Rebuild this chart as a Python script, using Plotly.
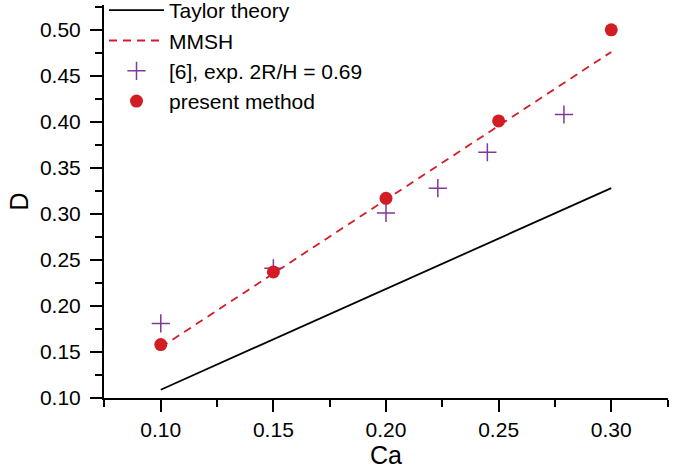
import plotly.graph_objects as go

# Data
taylor_ca = [0.10, 0.30]
taylor_d = [0.109, 0.328]

mmsh_ca = [0.10, 0.30]
mmsh_d = [0.155, 0.476]

exp_ca = [0.10, 0.15, 0.20, 0.223, 0.245, 0.279]
exp_d = [0.181, 0.241, 0.301, 0.328, 0.367, 0.408]

present_ca = [0.10, 0.15, 0.20, 0.25, 0.30]
present_d = [0.158, 0.237, 0.317, 0.401, 0.500]

RED = "#d21d24"
PURPLE = "#7d3a96"
FONT = "Liberation Sans, Arial, sans-serif"

fig = go.Figure()
fig.add_trace(go.Scatter(x=taylor_ca, y=taylor_d, mode="lines", name="Taylor theory",
                         line=dict(color="black", width=1.8)))
fig.add_trace(go.Scatter(x=mmsh_ca, y=mmsh_d, mode="lines", name="MMSH",
                         line=dict(color=RED, width=1.8, dash="8px,6px")))
fig.add_trace(go.Scatter(x=exp_ca, y=exp_d, mode="markers", name="[6], exp. 2R/H = 0.69",
                         marker=dict(symbol="cross-thin", size=13, line=dict(color=PURPLE, width=1.5))))
fig.add_trace(go.Scatter(x=present_ca, y=present_d, mode="markers", name="present method",
                         marker=dict(symbol="circle", size=13, color=RED)))

axis_common = dict(
    showline=True, linecolor="black", linewidth=2,
    ticks="outside", ticklen=12, tickwidth=2, tickcolor="black",
    showgrid=False, zeroline=False, mirror=False,
    tickfont=dict(family=FONT, size=21, color="black"),
)

fig.update_xaxes(
    range=[0.0748, 0.3252], tick0=0.0, dtick=0.05, tickformat=".2f",
    minor=dict(ticks="outside", ticklen=7, tickwidth=2, tickcolor="black", dtick=0.025, tick0=0.075, showgrid=False),
    title=dict(text="Ca", font=dict(family=FONT, size=25, color="black"), standoff=6),
    **axis_common,
)
fig.update_yaxes(
    range=[0.10, 0.527], tick0=0.0, dtick=0.05, tickformat=".2f",
    ticklabelstandoff=5,
    minor=dict(ticks="outside", ticklen=7, tickwidth=2, tickcolor="black", dtick=0.025, tick0=0.075, showgrid=False),
    title=dict(text="D", font=dict(family=FONT, size=25, color="black"), standoff=4),
    **axis_common,
)

fig.update_layout(
    width=678, height=471,
    margin=dict(l=104, r=10, t=5, b=73, autoexpand=False),
    paper_bgcolor="white", plot_bgcolor="white",
    font=dict(family=FONT, color="black"),
    showlegend=True,
    legend=dict(x=0.0, y=1.038, xanchor="left", yanchor="top", bgcolor="rgba(0,0,0,0)",
                font=dict(family=FONT, size=21, color="black"),
                itemwidth=55),
)

fig.write_html("out.html", config={"displayModeBar": False},
               post_script="document.body.style.margin='0';")
